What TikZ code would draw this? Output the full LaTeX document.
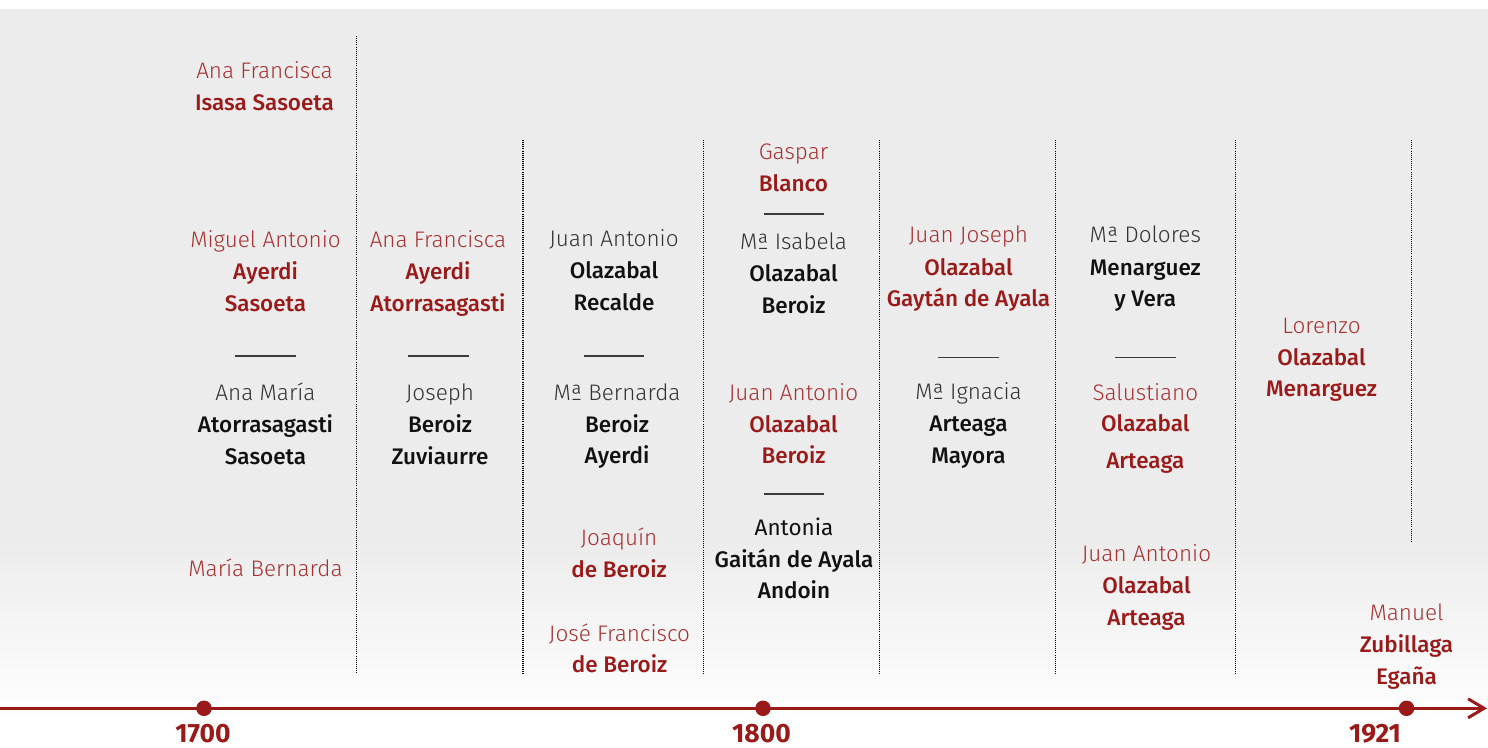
\documentclass[tikz,border=0pt]{standalone}
\usepackage{fontspec}
\setmainfont{Fira Sans}
\newfontfamily\flight{Fira Sans Light}
\newfontfamily\fmed{Fira Sans Medium}
\newfontfamily\fbold{Fira Sans}[UprightFont=* Bold]
\usetikzlibrary{arrows.meta}
\definecolor{bgray}{HTML}{ECECEC}
\definecolor{dred}{HTML}{9A1A1A}
\definecolor{lred}{HTML}{A63232}
\definecolor{fgray}{HTML}{333333}
\definecolor{sblack}{HTML}{111111}
\definecolor{rulegray}{HTML}{3C3C3C}
\tikzset{
  txt/.style={anchor=base, inner sep=0pt, outer sep=0pt},
  fnr/.style={txt, text=lred, font=\flight\fontsize{22.5}{26}\selectfont},
  fnk/.style={txt, text=fgray, font=\flight\fontsize{22.5}{26}\selectfont},
  fnb/.style={txt, text=sblack, font=\fontsize{22.5}{26}\selectfont},
  snr/.style={txt, text=dred, font=\fmed\fontsize{22.5}{26}\selectfont},
  snk/.style={txt, text=sblack, font=\fmed\fontsize{22.5}{26}\selectfont},
  year/.style={txt, text=dred, font=\fbold\fontsize{26.5}{30}\selectfont},
  sep/.style={draw=rulegray, line width=1.5pt},
  vdots/.style={draw=black, line width=1.1pt, dash pattern=on 1pt off 1.1pt},
  tline/.style={draw=dred, line width=3.2pt},
  ydot/.style={circle, fill=dred, minimum size=15.5pt, inner sep=0pt},
}
\begin{document}
\begin{tikzpicture}[x=1pt,y=-1pt]
\useasboundingbox (0,0) rectangle (1488,747);
% background
\fill[white] (0,0) rectangle (1488,747);
\fill[bgray] (0,9) rectangle (1488,541);
\shade[top color=bgray, bottom color=white] (0,540) rectangle (1488,722);

% dotted separators
\foreach \n/\x/\ya/\yb in {d1/356.5/36/674, d2/523/140/675, d3/703.5/140/675, d4/879.5/140/675, d5/1055.7/140/675, d6/1235.5/140/675, d7/1411.5/140/542}{
  \coordinate (\n t) at (\x,\ya);
  \coordinate (\n b) at (\x,\yb);
  \draw[vdots] (\n t) -- (\n b);
}

% column 1
\node[fnr] (c1a1) at (264.5,78) {Ana Francisca};
\node[snr] (c1a2) at (264.5,110) {Isasa Sasoeta};
\node[fnr] (c1b1) at (265.5,247) {Miguel Antonio};
\node[snr] (c1b2) at (265.5,279) {Ayerdi};
\node[snr] (c1b3) at (265.5,311) {Sasoeta};
\coordinate (r1a) at (235,356); \coordinate (r1b) at (296,356);
\draw[sep] (r1a) -- (r1b);
\node[fnk] (c1c1) at (265.5,400) {Ana María};
\node[snk] (c1c2) at (265.5,432) {Atorrasagasti};
\node[snk] (c1c3) at (265.5,464) {Sasoeta};
\node[fnr] (c1d1) at (265.5,576) {María Bernarda};

% column 2
\node[fnr] (c2a1) at (438,247) {Ana Francisca};
\node[snr] (c2a2) at (438,279) {Ayerdi};
\node[snr] (c2a3) at (438,311) {Atorrasagasti};
\coordinate (r2a) at (407.5,356); \coordinate (r2b) at (468.5,356);
\draw[sep] (r2a) -- (r2b);
\node[fnk] (c2b1) at (440,400) {Joseph};
\node[snk] (c2b2) at (440,432) {Beroiz};
\node[snk] (c2b3) at (440,464) {Zuviaurre};

% column 3
\node[fnk] (c3a1) at (614,246) {Juan Antonio};
\node[snk] (c3a2) at (614,278) {Olazabal};
\node[snk] (c3a3) at (614,310) {Recalde};
\coordinate (r3a) at (584,356); \coordinate (r3b) at (644,356);
\draw[sep] (r3a) -- (r3b);
\node[fnk] (c3b1) at (617,400) {Mª Bernarda};
\node[snk] (c3b2) at (617,432) {Beroiz};
\node[snk] (c3b3) at (617,463.5) {Ayerdi};
\node[fnr] (c3c1) at (619,545) {Joaquín};
\node[snr] (c3c2) at (619,577) {de Beroiz};
\node[fnr] (c3d1) at (619.5,641) {José Francisco};
\node[snr] (c3d2) at (619.5,672) {de Beroiz};

% column 4
\node[fnr] (c4a1) at (793.5,159) {Gaspar};
\node[snr] (c4a2) at (793.5,191) {Blanco};
\coordinate (r4a) at (763.5,214); \coordinate (r4b) at (824,214);
\draw[sep] (r4a) -- (r4b);
\node[fnk] (c4b1) at (793.5,249) {Mª Isabela};
\node[snk] (c4b2) at (793.5,281) {Olazabal};
\node[snk] (c4b3) at (793.5,313) {Beroiz};
\node[fnr] (c4c1) at (793.5,400) {Juan Antonio};
\node[snr] (c4c2) at (793.5,432) {Olazabal};
\node[snr] (c4c3) at (793.5,463.5) {Beroiz};
\coordinate (r4c) at (763.5,494); \coordinate (r4d) at (824,494);
\draw[sep] (r4c) -- (r4d);
\node[fnb] (c4d1) at (794,535) {Antonia};
\node[snk] (c4d2) at (794,567) {Gaitán de Ayala};
\node[snk] (c4d3) at (794,598.5) {Andoin};

% column 5
\node[fnr] (c5a1) at (968.5,242.5) {Juan Joseph};
\node[snr] (c5a2) at (968.5,275) {Olazabal};
\node[snr] (c5a3) at (968.5,306.7) {Gaytán de Ayala};
\coordinate (r5a) at (938,357.5); \coordinate (r5b) at (999,357.5);
\draw[sep] (r5a) -- (r5b);
\node[fnk] (c5b1) at (968.5,399.5) {Mª Ignacia};
\node[snk] (c5b2) at (968.5,431.5) {Arteaga};
\node[snk] (c5b3) at (968.5,463.5) {Mayora};

% column 6
\node[fnk] (c6a1) at (1145.3,242.5) {Mª Dolores};
\node[snk] (c6a2) at (1145.3,275) {Menarguez};
\node[snk] (c6a3) at (1145.3,306.7) {y Vera};
\coordinate (r6a) at (1115,357.5); \coordinate (r6b) at (1175.5,357.5);
\draw[sep] (r6a) -- (r6b);
\node[fnr] (c6b1) at (1145.3,400) {Salustiano};
\node[snr] (c6b2) at (1145.3,431.5) {Olazabal};
\node[snr] (c6b3) at (1145.3,468.3) {Arteaga};
\node[fnr] (c6c1) at (1146.5,561.7) {Juan Antonio};
\node[snr] (c6c2) at (1146.5,593.3) {Olazabal};
\node[snr] (c6c3) at (1146.5,625) {Arteaga};

% column 7
\node[fnr] (c7a1) at (1321.5,333.3) {Lorenzo};
\node[snr] (c7a2) at (1321.5,365) {Olazabal};
\node[snr] (c7a3) at (1321.5,396.7) {Menarguez};

% column 8
\node[fnr] (c8a1) at (1406.5,620.7) {Manuel};
\node[snr] (c8a2) at (1406.5,652.7) {Zubillaga};
\node[snr] (c8a3) at (1406.5,684.3) {Egaña};

% timeline
\coordinate (tl0) at (0,708.3);
\coordinate (tl1) at (1487,708.3);
\draw[tline, -{Straight Barb[length=16pt, width=19pt, line width=3pt]}] (tl0) -- (tl1);
\node[ydot] (p1700) at (204,708.3) {};
\node[ydot] (p1800) at (763,708.3) {};
\node[ydot] (p1921) at (1406.5,708.3) {};
\node[year] (y1700) at (203,742) {1700};
\node[year] (y1800) at (761.5,742) {1800};
\node[year] (y1921) at (1375,742) {1921};
\end{tikzpicture}
\end{document}
